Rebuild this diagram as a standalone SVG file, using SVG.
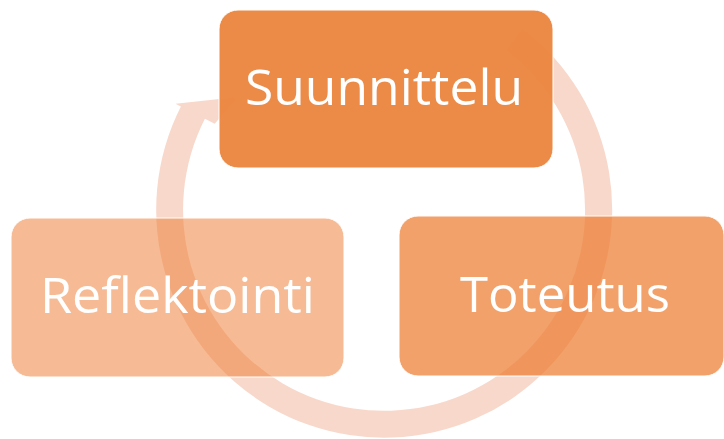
<svg xmlns="http://www.w3.org/2000/svg" width="724" height="439" viewBox="0 0 724 439">
  <style>
    .node { stroke: #ffffff; stroke-width: 1; }
    .label { font-family: "Open Sans", "Noto Sans", sans-serif; font-size: 50px; fill: #ffffff; text-anchor: middle; }
    .ring { fill: #F8D8CB; }
  </style>
  <rect width="724" height="439" fill="#ffffff"/>
  <g id="connectors">
    <path class="ring" d="M522.5,28.5 A228,228 0 1,1 180.9,106.5 L175.5,103.8 L238,97 L214.7,123.7 L204.9,118.7 A201,201 0 1,0 506,50 Z"/>
  </g>
  <g id="node-suunnittelu">
    <rect class="node" x="219" y="10" width="334" height="158" rx="19" fill="#EB8640" fill-opacity="0.96"/>
    <text class="label" x="384" y="105" textLength="278" lengthAdjust="spacingAndGlyphs">Suunnittelu</text>
  </g>
  <g id="node-toteutus">
    <rect class="node" x="399" y="216" width="325" height="160" rx="19" fill="#ED7D31" fill-opacity="0.72"/>
    <text class="label" x="565" y="312" textLength="210" lengthAdjust="spacingAndGlyphs">Toteutus</text>
  </g>
  <g id="node-reflektointi">
    <rect class="node" x="11" y="218" width="333" height="159" rx="19" fill="#ED7D31" fill-opacity="0.52"/>
    <text class="label" x="177.5" y="313" textLength="275" lengthAdjust="spacingAndGlyphs">Reflektointi</text>
  </g>
</svg>
